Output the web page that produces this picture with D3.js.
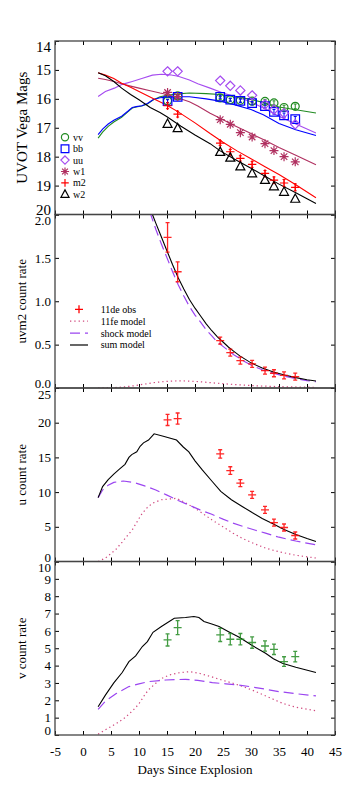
<!DOCTYPE html>
<html>
<head>
<meta charset="utf-8">
<script src="https://cdn.jsdelivr.net/npm/d3@7"></script>
<style>
  body { margin: 0; background: #fff; }
  svg text { font-family: "Liberation Serif", "Times New Roman", serif !important; }
</style>
</head>
<body>
<div id="chart"></div>
<script>
// ---- data ----
var obsDays = [15.1, 16.9, 24.5, 26.3, 28.1, 30.2, 32.5, 34.1, 35.9, 37.9];

// UVOT magnitudes
var vvMag = [16.07, 15.9, 15.97, 16.03, 16.05, 16.08, 16.09, 16.14, 16.3, 16.26];
var vvErr = [0.06, 0.05, 0.05, 0.05, 0.06, 0.06, 0.07, 0.07, 0.08, 0.08];
var bbMag = [16.08, 15.93, 15.93, 16.03, 16.07, 16.15, 16.25, 16.45, 16.57, 16.7];
var bbErr = [0.05, 0.05, 0.05, 0.05, 0.06, 0.06, 0.07, 0.08, 0.08, 0.09];
var uuMag = [15.05, 15.05, 15.37, 15.55, 15.71, 15.88, 16.19, 16.37, 16.5, 16.88];
var w1Mag = [15.78, 15.92, 16.72, 16.88, 17.17, 17.32, 17.55, 17.79, 18.0, 18.18];
var m2Mag = [16.24, 16.53, 17.53, 17.83, 18.06, 18.27, 18.58, 18.81, 18.91, 19.06];
var m2Err = [0.1, 0.1, 0.08, 0.08, 0.09, 0.1, 0.1, 0.11, 0.12, 0.12];
var w2Mag = [16.87, 17.02, 17.84, 18.04, 18.34, 18.58, 18.81, 19.03, 19.22, 19.46];

var vvModel = [[2.7,17.36],[3.5,17.15],[4.5,16.95],[5.5,16.8],[6.9,16.64],[8,16.45],[8.8,16.32],[9.5,16.28],[10.5,16.25],[11.5,16.18],[12.5,16.04],[13.75,15.93],[15,15.88],[17,15.83],[19,15.8],[22,15.82],[24.5,15.85],[27,15.92],[30,16.02],[32.2,16.13],[35,16.28],[38,16.38],[41.6,16.49]];
var bbModel = [[2.7,17.24],[3.5,17.05],[4.5,16.87],[5.5,16.74],[6.9,16.6],[8,16.43],[8.8,16.3],[9.5,16.27],[10.5,16.24],[11.5,16.16],[12.5,16.03],[13.75,15.96],[15,15.94],[17,15.93],[19,15.93],[22,16.0],[24.5,16.08],[27,16.2],[30,16.37],[32.2,16.55],[35,16.85],[38,17.07],[41.6,17.27]];
var uuModel = [[2.7,15.92],[4,15.75],[5.6,15.63],[7,15.5],[8.8,15.4],[10.5,15.3],[12.4,15.18],[14,15.15],[15.5,15.17],[17,15.22],[19,15.35],[20.5,15.48],[22.7,15.63],[25,15.8],[28,15.97],[30,16.1],[32.2,16.32],[35,16.6],[38,16.87],[41.6,17.18]];
var w1Model = [[2.7,15.29],[4,15.33],[5.5,15.4],[6.9,15.48],[8.5,15.56],[10,15.63],[12,15.72],[13.75,15.8],[15,15.85],[17,15.97],[19,16.1],[20.5,16.25],[22.7,16.5],[24.5,16.67],[27,16.92],[30,17.2],[32.2,17.41],[35,17.68],[38,17.95],[41.6,18.28]];
var m2Model = [[2.7,15.1],[4,15.18],[5.5,15.3],[6.9,15.46],[8.5,15.6],[10,15.75],[12.6,16.0],[14.9,16.21],[17,16.45],[20,16.83],[22.7,17.2],[25,17.5],[27.5,17.8],[30,18.07],[32.5,18.35],[35,18.62],[38,18.97],[41.6,19.42]];
var w2Model = [[2.7,15.1],[4,15.2],[5.5,15.4],[6.9,15.63],[8.5,15.85],[10,16.03],[12,16.3],[13.75,16.47],[15,16.62],[17.5,16.95],[20,17.25],[22.7,17.55],[24.5,17.8],[27,18.08],[30,18.4],[32.5,18.68],[35,18.95],[38,19.25],[41.6,19.62]];

// uvm2 count rate
var uvm2Obs = [1.737, 1.34, 0.545, 0.407, 0.315, 0.277, 0.2, 0.17, 0.145, 0.13];
var uvm2Err = [0.17, 0.115, 0.035, 0.03, 0.025, 0.025, 0.02, 0.02, 0.02, 0.02];
var uvm2Sum = [[11.6,2.2],[12.4,2.0],[13,1.9],[14,1.74],[15,1.58],[16,1.42],[17,1.27],[18,1.14],[19,1.02],[20,0.92],[21,0.83],[22,0.74],[23,0.66],[24,0.59],[25,0.53],[26,0.47],[27,0.42],[28,0.37],[29,0.33],[30,0.29],[32,0.23],[34,0.185],[36,0.15],[38,0.12],[40,0.095],[41.6,0.08]];
var uvm2Shock = [[11.4,2.2],[12.1,2.0],[13,1.83],[14,1.66],[15,1.5],[16,1.34],[17,1.19],[18,1.06],[19,0.94],[20,0.84],[21,0.76],[22,0.67],[23,0.6],[24,0.53],[25,0.48],[26,0.43],[27,0.38],[28,0.34],[29,0.3],[30,0.265],[32,0.21],[34,0.17],[36,0.136],[38,0.108],[40,0.086],[41.6,0.072]];
var uvm2Fe = [[2.7,0],[5,0.003],[7,0.01],[9,0.025],[11,0.045],[13,0.065],[15,0.077],[17,0.082],[19,0.08],[21,0.072],[23,0.06],[25,0.05],[27,0.04],[30,0.028],[33,0.02],[36,0.014],[41.6,0.008]];

// u count rate
var uObs = [20.4, 20.6, 15.5, 13.1, 11.3, 9.6, 7.45, 5.6, 4.9, 3.75];
var uErr = [0.8, 0.8, 0.6, 0.55, 0.5, 0.5, 0.45, 0.4, 0.4, 0.35];
var uSum = [[2.7,9.2],[3.5,10.8],[4.5,11.8],[5.5,12.6],[6.5,13.3],[7.5,14.0],[8.2,15.0],[8.7,15.4],[9.6,15.8],[10.2,16.6],[10.8,17.1],[11.7,17.5],[12.7,18.4],[14.5,18.0],[16.7,17.5],[17.9,16.5],[18.9,15.8],[20,14.5],[21.3,13.2],[23,11.6],[24.6,10.1],[26.5,8.9],[28.5,7.9],[30.2,7.05],[32,6.2],[34,5.4],[35.8,4.66],[38,3.9],[40,3.3],[41.6,2.88]];
var uShock = [[2.7,9.2],[3.5,10.3],[4.5,11.0],[5.5,11.4],[7.2,11.6],[9,11.4],[11,10.9],[13,10.3],[14.9,9.6],[17,8.8],[19,8.1],[20.9,7.44],[23,6.8],[25,6.1],[26.8,5.52],[29,4.95],[30.8,4.5],[32.6,4.08],[35,3.5],[38,2.95],[41.6,2.4]];
var uFe = [[2.7,0],[4,0.5],[5.8,1.68],[7,2.8],[8,3.8],[8.8,4.56],[10,6.2],[10.6,6.96],[11.5,7.8],[12.4,8.4],[14,8.9],[16.7,9.1],[18,8.6],[19.5,7.9],[20.9,7.2],[23,6.0],[25,5.0],[26.8,4.08],[28.5,3.3],[30.5,2.6],[32.6,1.93],[35,1.4],[38,0.9],[41.6,0.5]];

// v count rate
var vObs = [5.48, 6.19, 5.77, 5.52, 5.52, 5.33, 5.13, 4.94, 4.23, 4.52];
var vErr = [0.35, 0.4, 0.38, 0.33, 0.33, 0.33, 0.3, 0.3, 0.28, 0.3];
var vSum = [[2.7,1.63],[4,2.3],[5.5,3.0],[7,3.6],[8.2,4.23],[9.4,4.56],[10.6,5.1],[11.5,5.38],[12.5,5.92],[14,6.25],[16.3,6.73],[18.3,6.77],[19.8,6.83],[20.7,6.77],[21.6,6.54],[23,6.4],[24.3,6.25],[26,5.95],[27.9,5.63],[30,5.2],[32.6,4.71],[34,4.4],[35.6,4.13],[38,3.9],[41.6,3.6]];
var vShock = [[2.7,1.48],[4,1.95],[6,2.4],[8.2,2.79],[10,2.95],[11.8,3.08],[14.8,3.17],[18.3,3.21],[20.5,3.15],[23.1,3.02],[25.5,2.95],[27.9,2.88],[30,2.78],[32.6,2.64],[35,2.5],[38,2.38],[41.6,2.25]];
var vFe = [[2.7,0.05],[4,0.3],[6,0.67],[7.5,1.0],[9,1.44],[10,1.8],[11.2,2.4],[12,2.7],[13,2.98],[14,3.25],[15.4,3.46],[17,3.58],[19,3.65],[20.7,3.56],[23,3.35],[25,3.15],[26.8,2.98],[28.5,2.8],[30.9,2.5],[33,2.2],[35.6,1.83],[38,1.6],[41.6,1.4]];

var xTicks = d3.range(-5, 46, 5);
var magTicks = d3.range(14, 21, 1);
var uvm2Ticks = [0, 0.5, 1.0, 1.5, 2.0];
var uTicks = [0, 5, 10, 15, 20, 25];
var vTicks = d3.range(0, 11, 1);

// ---- layout ----
var w = 346,
  h = 791;
var margin = { left: 55, right: 11, top: 41 },
  width = w - margin.left - margin.right,
  panelH = 173.5;
var serif = '"Liberation Serif", "Times New Roman", serif';

var svg = d3
  .select("#chart")
  .append("svg")
  .attr("width", w)
  .attr("height", h)
  .attr("font-family", serif);

var x = d3.scaleLinear().domain([-5, 45]).range([0, width]);

const markerPath = (type, s) => {
  switch (type) {
    case "circle":
      return `M${s},0A${s},${s} 0 1,1 ${-s},0A${s},${s} 0 1,1 ${s},0Z`;
    case "square":
      return `M${-s},${-s}H${s}V${s}H${-s}Z`;
    case "diamond":
      return `M0,${-s * 1.15}L${s * 1.15},0L0,${s * 1.15}L${-s * 1.15},0Z`;
    case "triangle":
      return `M0,${-s * 1.1}L${s},${s * 0.75}L${-s},${s * 0.75}Z`;
    case "plus":
      return `M${-s},0H${s}M0,${-s}V${s}`;
    case "star": {
      let d = s * 0.72;
      return `M${-s},0H${s}M0,${-s}V${s}M${-d},${-d}L${d},${d}M${-d},${d}L${d},${-d}`;
    }
  }
};

function makePanel(i, domain, ticks, fontSize, title, fmt, lastPanel) {
  const top = margin.top + i * panelH;
  const g = svg.append("g").attr("transform", `translate(${margin.left},${top})`);
  const y = d3.scaleLinear().domain(domain).range([panelH, 0]);

  svg
    .append("clipPath")
    .attr("id", "clip" + i)
    .append("rect")
    .attr("width", width)
    .attr("height", panelH);

  const plot = g.append("g").attr("clip-path", `url(#clip${i})`);

  // left axis with inward ticks
  const left = g
    .append("g")
    .call(d3.axisLeft(y).tickValues(ticks).tickSize(-4).tickPadding(4).tickFormat(fmt))
    .attr("font-size", fontSize)
    .attr("font-family", serif);
  left.select(".domain").remove();
  // the end labels sit a little inside the frame, as in the original
  left.selectAll(".tick text").attr("transform", (d) => {
    let yd = y(d);
    if (yd > panelH - 1) return "translate(0,-4.5)";
    if (yd < 1) return "translate(0,6)";
    return null;
  });

  g.append("g")
    .attr("transform", `translate(${width},0)`)
    .call(d3.axisRight(y).tickValues(ticks).tickSize(-4).tickFormat(""))
    .select(".domain")
    .remove();

  g.append("g")
    .call(d3.axisTop(x).tickValues(xTicks).tickSize(-4).tickFormat(""))
    .select(".domain")
    .remove();

  const bottom = g
    .append("g")
    .attr("transform", `translate(0,${panelH})`)
    .call(
      d3
        .axisBottom(x)
        .tickValues(xTicks)
        .tickSize(-4)
        .tickPadding(12)
        .tickFormat(lastPanel ? (d) => String(d) : "")
    )
    .attr("font-size", 13)
    .attr("font-family", serif);
  bottom.select(".domain").remove();
  g.selectAll(".tick line").attr("stroke", "#000");

  g.append("rect")
    .attr("width", width)
    .attr("height", panelH)
    .attr("fill", "none")
    .attr("stroke", "#444")
    .attr("stroke-width", 1.3);

  svg
    .append("text")
    .attr("transform", `translate(${title.x},${top + panelH / 2})rotate(-90)`)
    .attr("text-anchor", "middle")
    .attr("font-size", title.size)
    .text(title.text);

  return { g, y, plot };
}

var line = (y) =>
  d3
    .line()
    .x((d) => x(d[0]))
    .y((d) => y(d[1]));

// ---- panel 1: UVOT magnitudes ----
var p1 = makePanel(0, [20, 14], magTicks, 15, { text: "UVOT Vega Mags", x: 26.5, size: 15 }, (d) => String(d), false);

var bands = [
  { name: "vv", mag: vvMag, err: vvErr, model: vvModel, color: "#228b22", shape: "circle", size: 4 },
  { name: "bb", mag: bbMag, err: bbErr, model: bbModel, color: "#0000ff", shape: "square", size: 4.3 },
  { name: "uu", mag: uuMag, err: null, model: uuModel, color: "#a64cf0", shape: "diamond", size: 4 },
  { name: "w1", mag: w1Mag, err: null, model: w1Model, color: "#b03060", shape: "star", size: 4.5 },
  { name: "m2", mag: m2Mag, err: m2Err, model: m2Model, color: "#ff0000", shape: "plus", size: 4.2 },
  { name: "w2", mag: w2Mag, err: null, model: w2Model, color: "#000000", shape: "triangle", size: 4.5 },
];

bands.forEach((b) => {
  p1.plot
    .append("path")
    .datum(b.model)
    .attr("fill", "none")
    .attr("stroke", b.color)
    .attr("stroke-width", 1.1)
    .attr("d", line(p1.y));
});

bands.forEach((b) => {
  const pts = d3.zip(obsDays, b.mag, b.err || b.mag.map(() => 0));
  if (b.err) {
    p1.plot
      .append("g")
      .selectAll("path")
      .data(pts)
      .enter()
      .append("path")
      .attr("fill", "none")
      .attr("stroke", b.color)
      .attr("stroke-width", 1)
      .attr("d", (d) => {
        let cx = x(d[0]), y0 = p1.y(d[1] - d[2]), y1 = p1.y(d[1] + d[2]);
        return `M${cx},${y0}V${y1}M${cx - 1.5},${y0}H${cx + 1.5}M${cx - 1.5},${y1}H${cx + 1.5}`;
      });
  }
  p1.plot
    .append("g")
    .selectAll("path")
    .data(pts)
    .enter()
    .append("path")
    .attr("transform", (d) => `translate(${x(d[0])},${p1.y(d[1])})`)
    .attr("d", markerPath(b.shape, b.size))
    .attr("fill", "none")
    .attr("stroke", b.color)
    .attr("stroke-width", 1.2);
});

// legend for magnitudes
var leg1 = svg.append("g").attr("transform", "translate(65,137.3)");
bands.forEach((b, i) => {
  leg1
    .append("path")
    .attr("transform", `translate(0,${i * 11.4})`)
    .attr("d", markerPath(b.shape, b.size * 0.9))
    .attr("fill", "none")
    .attr("stroke", b.color)
    .attr("stroke-width", 1.2);
  leg1
    .append("text")
    .attr("x", 8)
    .attr("y", i * 11.4)
    .attr("dy", "0.35em")
    .attr("font-size", 10)
    .text(b.name);
});

// ---- count rate panels ----
function drawCounts(p, sum, shock, fe, obs, err, obsColor) {
  p.plot
    .append("path")
    .datum(fe)
    .attr("fill", "none")
    .attr("stroke", "#d0487e")
    .attr("stroke-width", 1.2)
    .attr("stroke-dasharray", "1.3,3")
    .attr("d", line(p.y));
  p.plot
    .append("path")
    .datum(shock)
    .attr("fill", "none")
    .attr("stroke", "#9b45f0")
    .attr("stroke-width", 1.2)
    .attr("stroke-dasharray", "10,5")
    .attr("d", line(p.y));
  p.plot
    .append("path")
    .datum(sum)
    .attr("fill", "none")
    .attr("stroke", "#000")
    .attr("stroke-width", 1.1)
    .attr("d", line(p.y));

  p.plot
    .append("g")
    .selectAll("path")
    .data(d3.zip(obsDays, obs, err))
    .enter()
    .append("path")
    .attr("fill", "none")
    .attr("stroke", obsColor)
    .attr("stroke-opacity", 0.85)
    .attr("stroke-width", 1.3)
    .attr("d", (d) => {
      let cx = x(d[0]), cy = p.y(d[1]);
      let y0 = Math.max(p.y(d[1] - d[2]), cy + 3.5), y1 = Math.min(p.y(d[1] + d[2]), cy - 3.5);
      return `M${cx - 4},${cy}H${cx + 4}M${cx},${y0}V${y1}M${cx - 2},${y0}H${cx + 2}M${cx - 2},${y1}H${cx + 2}`;
    });
}

var fmt1 = d3.format(".1f");
var p2 = makePanel(1, [0, 2], uvm2Ticks, 13, { text: "uvm2 count rate", x: 26, size: 13 }, fmt1, false);
drawCounts(p2, uvm2Sum, uvm2Shock, uvm2Fe, uvm2Obs, uvm2Err, "#ff0000");

var p3 = makePanel(2, [0, 25], uTicks, 13, { text: "u count rate", x: 26, size: 13 }, (d) => String(d), false);
drawCounts(p3, uSum, uShock, uFe, uObs, uErr, "#ff0000");

var p4 = makePanel(3, [0, 10], vTicks, 13, { text: "v count rate", x: 26, size: 13 }, (d) => String(d), true);
drawCounts(p4, vSum, vShock, vFe, vObs, vErr, "#228b22");

// legend for the model panel
var legItems = ["11de obs", "11fe model", "shock model", "sum model"];
var legColors = ["#ff0000", "#d0487e", "#9b45f0", "#000"];
var legDash = [null, "1.3,3", "10,5", null];
var leg2 = svg.append("g").attr("transform", "translate(70,309.3)");
legItems.forEach((t, i) => {
  let yy = i * 11.9;
  if (i === 0) {
    leg2
      .append("path")
      .attr("d", `M5,${yy}H13M9,${yy - 4}V${yy + 4}`)
      .attr("stroke", legColors[i])
      .attr("stroke-width", 1.3);
  } else {
    leg2
      .append("line")
      .attr("x1", 0)
      .attr("x2", 18)
      .attr("y1", yy)
      .attr("y2", yy)
      .attr("stroke", legColors[i])
      .attr("stroke-width", 1.2)
      .attr("stroke-dasharray", legDash[i]);
  }
  leg2
    .append("text")
    .attr("x", 30.7)
    .attr("y", yy)
    .attr("dy", "0.35em")
    .attr("font-size", 10)
    .text(t);
});

svg
  .append("text")
  .attr("x", margin.left + width / 2)
  .attr("y", 773.5)
  .attr("text-anchor", "middle")
  .attr("font-size", 13)
  .text("Days Since Explosion");
</script>
</body>
</html>
